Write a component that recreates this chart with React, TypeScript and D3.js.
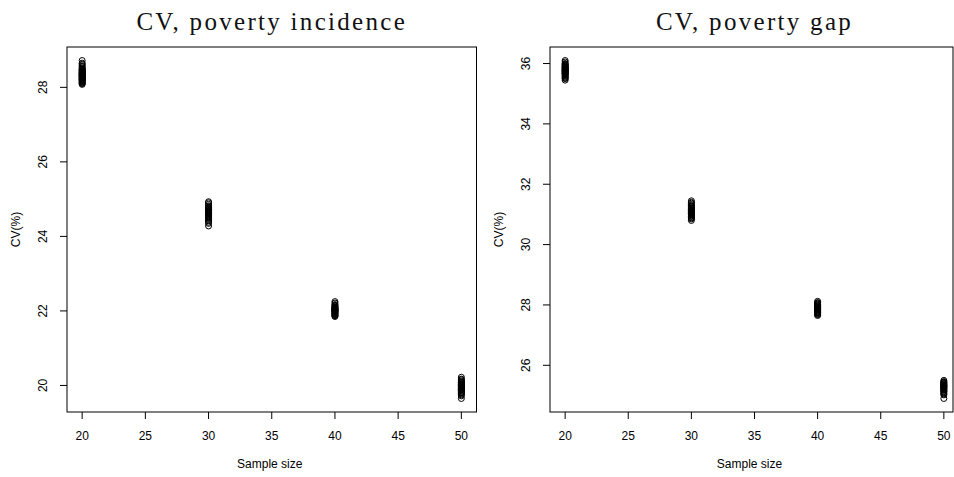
import React from "react";
import * as d3 from "d3";

const sampleSizes = [20, 30, 40, 50];

const incidence20 = [28.08, 28.1, 28.12, 28.14, 28.15, 28.17, 28.18, 28.2, 28.21, 28.22, 28.24, 28.25, 28.26, 28.27, 28.29, 28.3, 28.31, 28.32, 28.33, 28.34, 28.35, 28.36, 28.37, 28.38, 28.4, 28.41, 28.42, 28.44, 28.45, 28.47, 28.48, 28.5, 28.52, 28.55, 28.58, 28.62, 28.65, 28.72];
const incidence30 = [24.28, 24.35, 24.38, 24.42, 24.45, 24.48, 24.5, 24.52, 24.53, 24.55, 24.56, 24.58, 24.6, 24.61, 24.62, 24.64, 24.65, 24.66, 24.68, 24.69, 24.7, 24.72, 24.73, 24.75, 24.77, 24.78, 24.8, 24.82, 24.86, 24.9, 24.93];
const incidence40 = [21.85, 21.87, 21.88, 21.9, 21.92, 21.93, 21.95, 21.96, 21.98, 21.99, 22.0, 22.01, 22.02, 22.03, 22.04, 22.05, 22.06, 22.07, 22.08, 22.1, 22.11, 22.13, 22.15, 22.17, 22.21, 22.25];
const incidence50 = [19.65, 19.72, 19.75, 19.78, 19.8, 19.82, 19.84, 19.86, 19.88, 19.89, 19.9, 19.92, 19.93, 19.95, 19.96, 19.97, 19.99, 20.0, 20.02, 20.03, 20.05, 20.07, 20.08, 20.1, 20.12, 20.15, 20.17, 20.22];

const gap20 = [35.45, 35.5, 35.52, 35.55, 35.58, 35.6, 35.63, 35.65, 35.67, 35.68, 35.7, 35.72, 35.73, 35.75, 35.76, 35.78, 35.79, 35.8, 35.82, 35.84, 35.85, 35.87, 35.88, 35.9, 35.92, 35.94, 35.96, 35.98, 36.0, 36.05, 36.1];
const gap30 = [30.8, 30.85, 30.88, 30.9, 30.93, 30.95, 30.98, 31.0, 31.02, 31.03, 31.05, 31.07, 31.08, 31.1, 31.11, 31.13, 31.14, 31.16, 31.18, 31.2, 31.22, 31.25, 31.27, 31.3, 31.33, 31.37, 31.4, 31.45];
const gap40 = [27.65, 27.68, 27.7, 27.72, 27.74, 27.75, 27.77, 27.79, 27.8, 27.82, 27.83, 27.85, 27.86, 27.88, 27.89, 27.9, 27.92, 27.94, 27.95, 27.97, 27.99, 28.01, 28.03, 28.06, 28.08, 28.12];
const gap50 = [24.9, 25.02, 25.05, 25.08, 25.12, 25.14, 25.17, 25.19, 25.21, 25.23, 25.25, 25.27, 25.28, 25.3, 25.31, 25.33, 25.34, 25.36, 25.38, 25.4, 25.42, 25.44, 25.46, 25.5];

const xTicks = [20, 25, 30, 35, 40, 45, 50];
const incidenceYTicks = [20, 22, 24, 26, 28];
const gapYTicks = [26, 28, 30, 32, 34, 36];

const titles = ["CV, poverty incidence", "CV, poverty gap"];
const xLabel = "Sample size";
const yLabel = "CV(%)";

type PanelProps = {
  title: string;
  groups: number[][];
  yTicks: number[];
  left: number;
  right: number;
  boxRight: number;
};

function padDomain(lo: number, hi: number): [number, number] {
  const d = (hi - lo) * 0.04;
  return [lo - d, hi + d];
}

function Panel({ title, groups, yTicks, left, right, boxRight }: PanelProps) {
  const top = 47;
  const bottom = 412;
  const all = groups.flat();
  const x = d3.scaleLinear().domain(padDomain(20, 50)).range([left, right]);
  const y = d3.scaleLinear().domain(padDomain(d3.min(all)!, d3.max(all)!)).range([bottom, top]);
  const font = "Liberation Sans, Arial, Helvetica, sans-serif";
  const cx = (left + boxRight) / 2;
  const cy = (top + bottom) / 2;
  return (
    <g>
      <text
        x={(left + right) / 2}
        y={30}
        textAnchor="middle"
        fontFamily="Liberation Serif, serif"
        fontSize={25}
        letterSpacing={2.3}
        fill="#111"
      >
        {title}
      </text>
      <rect x={left} y={top} width={boxRight - left} height={bottom - top} fill="none" stroke="#000" strokeWidth={1} />
      {xTicks.map((t) => (
        <g key={"x" + t}>
          <line x1={x(t)} x2={x(t)} y1={bottom} y2={bottom + 7} stroke="#000" />
          <text x={x(t)} y={440} textAnchor="middle" fontFamily={font} fontSize={12} fill="#000">
            {t}
          </text>
        </g>
      ))}
      {yTicks.map((t) => (
        <g key={"y" + t}>
          <line x1={left - 7} x2={left} y1={y(t)} y2={y(t)} stroke="#000" />
          <text
            transform={`translate(${left - 20},${y(t)}) rotate(-90)`}
            textAnchor="middle"
            fontFamily={font}
            fontSize={12}
            fill="#000"
          >
            {t}
          </text>
        </g>
      ))}
      <text x={cx - 2} y={468} textAnchor="middle" fontFamily={font} fontSize={12} fill="#000">
        {xLabel}
      </text>
      <text transform={`translate(${left - 47},${cy}) rotate(-90)`} textAnchor="middle" fontFamily={font} fontSize={12} fill="#000">
        {yLabel}
      </text>
      {groups.map((vals, gi) =>
        vals.map((v, i) => (
          <circle key={gi + "-" + i} cx={x(sampleSizes[gi])} cy={y(v)} r={3} fill="none" stroke="#000" strokeWidth={1} />
        ))
      )}
    </g>
  );
}

export default function App() {
  return (
    <svg width={954} height={477} style={{ position: "absolute", left: 0, top: 0, background: "#fff" }}>
      <rect x={0} y={0} width={954} height={477} fill="#fff" />
      <Panel
        title={titles[0]}
        groups={[incidence20, incidence30, incidence40, incidence50]}
        yTicks={incidenceYTicks}
        left={67}
        right={476.5}
        boxRight={476.5}
      />
      <Panel
        title={titles[1]}
        groups={[gap20, gap30, gap40, gap50]}
        yTicks={gapYTicks}
        left={550}
        right={959}
        boxRight={953}
      />
    </svg>
  );
}
